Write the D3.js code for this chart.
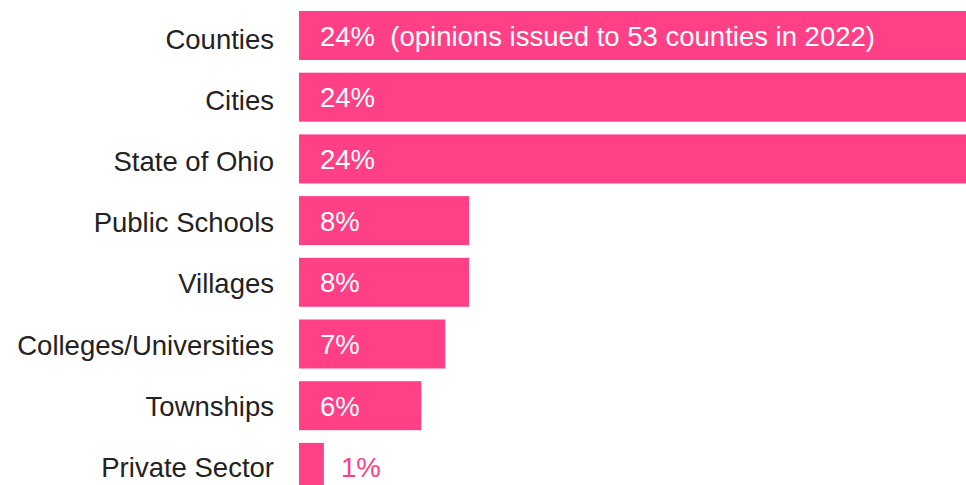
<!DOCTYPE html>
<html>
<head>
<meta charset="utf-8">
<script src="https://cdn.jsdelivr.net/npm/d3@7"></script>
<style>
  html, body { margin: 0; padding: 0; background: #fff; overflow: hidden; }
  text { font-family: "Liberation Sans", Arial, sans-serif; }
</style>
</head>
<body>
<div id="chart"></div>
<script>
// chart data
var categories = ["Counties", "Cities", "State of Ohio", "Public Schools", "Villages",
                  "Colleges/Universities", "Townships", "Private Sector"];
var values = [24, 24, 24, 8.2, 8.2, 7.05, 5.9, 1.2];
var valueLabels = ["24%  (opinions issued to 53 counties in 2022)", "24%", "24%",
                   "8%", "8%", "7%", "6%", "1%"];

var width = 966;
var height = 485;
var barColor = "#ff4086";

var svg = d3.select("#chart")
  .append("svg")
  .attr("width", width)
  .attr("height", height);

// x is broken: the three big bars run off the right edge
var x = d3.scaleLinear()
  .domain([0, 8.2, 24])
  .range([299, 469, 1000]);

var y = d3.scaleBand()
  .domain(categories)
  .range([4.65, 498.25])
  .paddingInner(0.206)
  .paddingOuter(0.103);

// category labels sit on a slightly tighter grid than the bars
var yLabel = d3.scalePoint()
  .domain(categories)
  .range([49.3, 476.6]);

var rows = categories.map(function(c, i) {
  return { name: c, value: values[i], label: valueLabels[i] };
});

// bars
svg.append("g")
  .selectAll("rect")
  .data(rows)
  .enter()
  .append("rect")
  .attr("x", x(0))
  .attr("y", function(d) { return y(d.name); })
  .attr("width", function(d) { return x(d.value) - x(0); })
  .attr("height", y.bandwidth())
  .attr("fill", barColor);

// category labels
svg.append("g")
  .selectAll("text")
  .data(rows)
  .enter()
  .append("text")
  .attr("x", 274)
  .attr("y", function(d) { return yLabel(d.name); })
  .attr("text-anchor", "end")
  .style("font-size", "27.5px")
  .style("fill", "#222")
  .text(function(d) { return d.name; });

// value labels, inside the bar when it fits
svg.append("g")
  .selectAll("text")
  .data(rows)
  .enter()
  .append("text")
  .attr("x", function(d) {
    var end = x(d.value);
    return (end - x(0) > 60) ? x(0) + 21 : end + 17;
  })
  .attr("y", function(d) { return y(d.name) + 34.5; })
  .style("font-size", "27.5px")
  .style("white-space", "pre")
  .style("fill", function(d) { return (x(d.value) - x(0) > 60) ? "#fff" : barColor; })
  .text(function(d) { return d.label; });
</script>
</body>
</html>
